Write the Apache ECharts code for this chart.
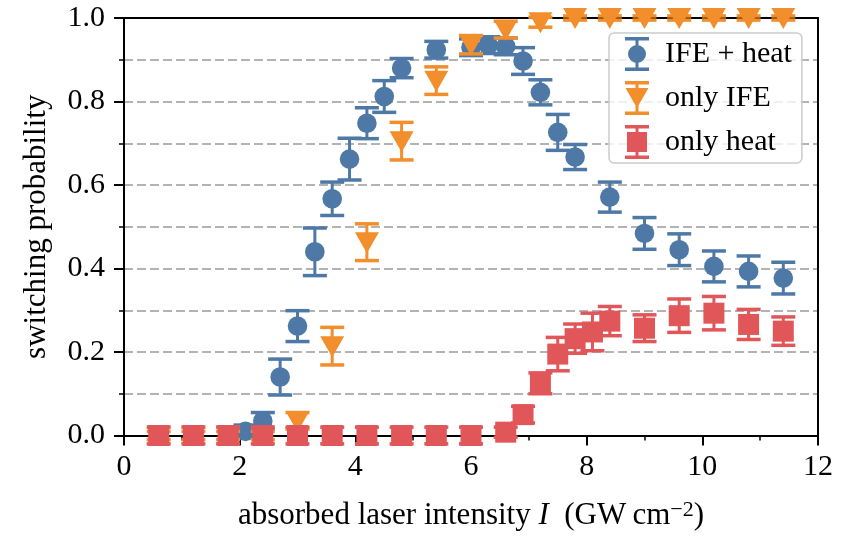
<!DOCTYPE html>
<html>
<head>
<meta charset="utf-8">
<script src="https://cdn.jsdelivr.net/npm/echarts@6/dist/echarts.min.js"></script>
<style>
  html, body { margin: 0; padding: 0; background: #fff; }
  #chart { width: 847px; height: 536px; }
</style>
</head>
<body>
<div id="chart"></div>
<script>
// Switching probability vs absorbed laser intensity (GW cm^-2)

// IFE + heat
const ifeHeatX   = [2.1, 2.4, 2.7, 3.0, 3.3, 3.6, 3.9, 4.2, 4.5, 4.8, 5.4, 6.0, 6.3, 6.6, 6.9, 7.2, 7.5, 7.8, 8.4, 9.0, 9.6, 10.2, 10.8, 11.4];
const ifeHeatY   = [0.010, 0.035, 0.140, 0.262, 0.440, 0.567, 0.662, 0.748, 0.812, 0.880, 0.924, 0.930, 0.935, 0.932, 0.897, 0.822, 0.726, 0.667, 0.571, 0.484, 0.445, 0.405, 0.393, 0.377];
const ifeHeatErr = [0.015, 0.020, 0.043, 0.037, 0.057, 0.040, 0.050, 0.037, 0.038, 0.023, 0.020, 0.020, 0.020, 0.020, 0.032, 0.030, 0.043, 0.030, 0.036, 0.038, 0.038, 0.037, 0.037, 0.038];

// only IFE
const ifeOnlyX   = [0.6, 1.2, 1.8, 2.4, 3.0, 3.6, 4.2, 4.8, 5.4, 6.0, 6.6, 7.2, 7.8, 8.4, 9.0, 9.6, 10.2, 10.8, 11.4];
const ifeOnlyY   = [0.0, 0.0, 0.0, 0.0, 0.035, 0.214, 0.463, 0.705, 0.850, 0.936, 0.972, 0.990, 1.0, 1.0, 1.0, 1.0, 1.0, 1.0, 1.0];
const ifeOnlyErr = [0.01, 0.01, 0.01, 0.01, 0.020, 0.045, 0.044, 0.045, 0.033, 0.022, 0.020, 0.012, 0.005, 0.005, 0.005, 0.005, 0.005, 0.005, 0.005];

// only heat
const heatOnlyX   = [0.6, 1.2, 1.8, 2.4, 3.0, 3.6, 4.2, 4.8, 5.4, 6.0, 6.6, 6.9, 7.2, 7.5, 7.8, 8.1, 8.4, 9.0, 9.6, 10.2, 10.8, 11.4];
const heatOnlyY   = [0.0, 0.0, 0.0, 0.0, 0.0, 0.0, 0.0, 0.0, 0.0, 0.0, 0.008, 0.050, 0.125, 0.195, 0.232, 0.248, 0.274, 0.257, 0.287, 0.293, 0.266, 0.250];
const heatOnlyErr = [0.02, 0.02, 0.02, 0.02, 0.02, 0.02, 0.02, 0.02, 0.02, 0.02, 0.012, 0.020, 0.025, 0.040, 0.035, 0.045, 0.035, 0.032, 0.040, 0.040, 0.036, 0.034];

// axis ticks
const xTicks = [0, 2, 4, 6, 8, 10, 12];
const yTicks = [0.0, 0.2, 0.4, 0.6, 0.8, 1.0];

const seriesNames = ['IFE + heat', 'only IFE', 'only heat'];
const colors = ['#4e79a7', '#f28e2b', '#e15759'];

const FONT = 'Liberation Serif';
const FS = 30;
const TITLE_FS = 31;

function zip(xs, ys, es) {
  return xs.map((x, i) => [x, ys[i], es[i]]);
}

const CAP_W = 24;

// marker shapes drawn around the data coordinate
function marker(kind, cx, cy, color) {
  if (kind === 'circle') {
    return { type: 'circle', shape: { cx: cx, cy: cy, r: 9.8 }, style: { fill: color } };
  }
  if (kind === 'triangle') {
    return { type: 'polygon', shape: { points: [[cx - 12, cy - 10], [cx + 12, cy - 10], [cx, cy + 11]] }, style: { fill: color } };
  }
  return { type: 'rect', shape: { x: cx - 10.5, y: cy - 10.5, width: 21, height: 21 }, style: { fill: color } };
}

function errorRenderer(kind, color) {
  return function (params, api) {
    const x = api.value(0), y = api.value(1), e = api.value(2);
    const c = api.coord([x, y]);
    const hi = api.coord([x, y + e]);
    const lo = api.coord([x, y - e]);
    return {
      type: 'group',
      children: [
        { type: 'line', shape: { x1: c[0], y1: hi[1], x2: c[0], y2: lo[1] }, style: { stroke: color, lineWidth: 3 } },
        { type: 'line', shape: { x1: c[0] - CAP_W / 2, y1: hi[1], x2: c[0] + CAP_W / 2, y2: hi[1] }, style: { stroke: color, lineWidth: 3.5 } },
        { type: 'line', shape: { x1: c[0] - CAP_W / 2, y1: lo[1], x2: c[0] + CAP_W / 2, y2: lo[1] }, style: { stroke: color, lineWidth: 3.5 } },
        marker(kind, c[0], c[1], color)
      ]
    };
  };
}

// legend handles: capped error bar with the marker on it
const ibeam = 'M0,0H24V3.5H13.5V30.5H24V34H0V30.5H10.5V3.5H0Z';
const legendIcons = [
  'path://' + ibeam + 'M3,17A9,9,0,1,1,21,17A9,9,0,1,1,3,17Z',
  'path://' + ibeam + 'M0.5,7H23.5L12,27Z',
  'path://' + ibeam + 'M2,7H22V27H2Z'
];

const gridLine = { color: '#b3b3b3', width: 2, type: [9, 4] };

const chart = echarts.init(document.getElementById('chart'), null, { renderer: 'canvas' });

const option = {
  animation: false,
  backgroundColor: '#ffffff',
  textStyle: { fontFamily: FONT },
  grid: { left: 124, right: 29, top: 18, bottom: 98, show: false },
  legend: {
    left: 609,
    top: 33,
    orient: 'vertical',
    padding: [4, 10, 4, 16],
    itemWidth: 24,
    itemHeight: 34,
    itemGap: 10,
    backgroundColor: 'rgba(255,255,255,0.8)',
    borderColor: '#cccccc',
    borderWidth: 1.5,
    borderRadius: 5,
    textStyle: { fontFamily: FONT, fontSize: FS, color: '#000', padding: [0, 0, 0, 11] },
    data: seriesNames.map((n, i) => ({ name: n, icon: legendIcons[i], itemStyle: { color: colors[i] } }))
  },
  xAxis: [
    {
      type: 'value', min: xTicks[0], max: xTicks[xTicks.length - 1], interval: 2,
      position: 'bottom', z: 1,
      name: '{t|absorbed laser intensity }{i|I}{t|  (GW\u2009cm}{s|\u22122}{t|)}',
      nameLocation: 'middle', nameGap: 64,
      nameTextStyle: {
        rich: {
          t: { fontFamily: FONT, fontSize: TITLE_FS, color: '#000' },
          i: { fontFamily: FONT, fontSize: TITLE_FS, fontStyle: 'italic', color: '#000' },
          s: { fontFamily: FONT, fontSize: 22, color: '#000', verticalAlign: 'top', padding: [0, 0, 10, 0] }
        }
      },
      axisLine: { show: true, onZero: false, lineStyle: { color: '#000', width: 2 } },
      axisTick: { show: true, inside: false, length: 10, lineStyle: { color: '#000', width: 2 } },
      minorTick: { show: true, splitNumber: 2, length: 5, lineStyle: { color: '#000', width: 1.5 } },
      axisLabel: { fontFamily: FONT, fontSize: FS, color: '#000', margin: 17 },
      splitLine: { show: false }
    },
    {
      type: 'value', min: xTicks[0], max: xTicks[xTicks.length - 1], position: 'top', z: 1,
      axisLine: { show: true, onZero: false, lineStyle: { color: '#000', width: 2 } },
      axisTick: { show: false }, axisLabel: { show: false }, splitLine: { show: false }
    }
  ],
  yAxis: [
    {
      type: 'value', min: yTicks[0], max: yTicks[yTicks.length - 1], interval: 0.2,
      position: 'left',
      name: 'switching probability', nameLocation: 'middle', nameGap: 72,
      nameTextStyle: { fontFamily: FONT, fontSize: TITLE_FS, color: '#000' },
      axisLine: { show: true, onZero: false, lineStyle: { color: '#000', width: 2 } },
      axisTick: { show: true, inside: false, length: 10, lineStyle: { color: '#000', width: 2 } },
      minorTick: { show: true, splitNumber: 2, length: 5, lineStyle: { color: '#000', width: 1.5 } },
      axisLabel: { fontFamily: FONT, fontSize: FS, color: '#000', margin: 19, formatter: v => v.toFixed(1) },
      splitLine: { show: true, lineStyle: gridLine },
      minorSplitLine: { show: true, lineStyle: gridLine }
    },
    {
      type: 'value', min: yTicks[0], max: yTicks[yTicks.length - 1], position: 'right', z: 1,
      axisLine: { show: true, onZero: false, lineStyle: { color: '#000', width: 2 } },
      axisTick: { show: false }, axisLabel: { show: false }, splitLine: { show: false }
    }
  ],
  series: [
    {
      name: seriesNames[0], type: 'custom', xAxisIndex: 0, yAxisIndex: 0, clip: false, z: 2,
      itemStyle: { color: colors[0] },
      renderItem: errorRenderer('circle', colors[0]),
      encode: { x: 0, y: 1 },
      data: zip(ifeHeatX, ifeHeatY, ifeHeatErr)
    },
    {
      name: seriesNames[1], type: 'custom', xAxisIndex: 0, yAxisIndex: 0, clip: false, z: 3,
      itemStyle: { color: colors[1] },
      renderItem: errorRenderer('triangle', colors[1]),
      encode: { x: 0, y: 1 },
      data: zip(ifeOnlyX, ifeOnlyY, ifeOnlyErr)
    },
    {
      name: seriesNames[2], type: 'custom', xAxisIndex: 0, yAxisIndex: 0, clip: false, z: 4,
      itemStyle: { color: colors[2] },
      renderItem: errorRenderer('square', colors[2]),
      encode: { x: 0, y: 1 },
      data: zip(heatOnlyX, heatOnlyY, heatOnlyErr)
    }
  ]
};

chart.setOption(option);
</script>
</body>
</html>
